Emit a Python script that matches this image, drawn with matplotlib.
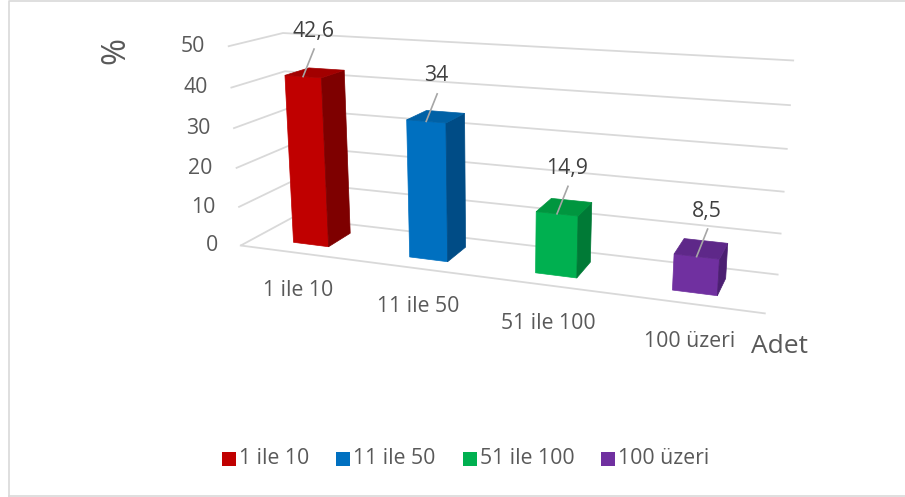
import numpy as np
import matplotlib
matplotlib.use("Agg")
import matplotlib.pyplot as plt
from matplotlib.patches import Polygon

# ---- data -------------------------------------------------------------
categories = ["1 ile 10", "11 ile 50", "51 ile 100", "100 üzeri"]
values = [42.6, 34, 14.9, 8.5]
value_labels = ["42,6", "34", "14,9", "8,5"]
y_ticks = [0, 10, 20, 30, 40, 50]
y_tick_labels = ["0", "10", "20", "30", "40", "50"]

# ---- styling ----------------------------------------------------------
front_colors = ["#C00000", "#0070C0", "#00B050", "#7030A0"]
side_colors = ["#7E0000", "#004C86", "#007A36", "#4C1F72"]
top_colors = ["#A20000", "#0061A6", "#00963F", "#5E2889"]
grid_color = "#D9D9D9"
text_color = "#595959"
label_color = "#404040"
font = ["Open Sans", "DejaVu Sans"]
fs = 15.3

W, H = 905, 497
n_cat = len(categories)
bar_width = 0.31     # share of a category slot
bar_depth = 0.46     # share of the floor depth

# ---- perspective camera -------------------------------------------------
# Box corners (category, depth, value) and where they sit on the canvas (px).
frame_anchors = [
    ((0, 0, 0), (241, 246)), ((0, 0, 10), (238, 207)), ((0, 0, 20), (236, 168)),
    ((0, 0, 30), (233, 128)), ((0, 0, 40), (230, 88)), ((0, 0, 50), (228, 47)),
    ((0, 1, 50), (283, 33)), ((0, 1, 40), (285, 71)),
    ((4, 1, 50), (794, 61)), ((4, 1, 40), (791, 105)), ((4, 1, 30), (788, 148)),
    ((4, 1, 20), (785, 192)), ((4, 1, 10), (780, 234)), ((4, 1, 0), (779, 275)),
    ((4, 0, 0), (765, 313)),
]


def solve_camera(anchors):
    rows = []
    for (X, Y, Z), (u, v) in anchors:
        p = np.array([X, Y, Z / 10.0, 1.0])
        u, v = u / 100.0, v / 100.0
        rows.append(np.concatenate([p, np.zeros(4), -u * p]))
        rows.append(np.concatenate([np.zeros(4), p, -v * p]))
    _, _, vt = np.linalg.svd(np.array(rows))
    return vt[-1].reshape(3, 4)


CAM = solve_camera(frame_anchors)
_, _, vt_c = np.linalg.svd(CAM)
cam_center = vt_c[-1]
cam_center = cam_center[:3] / cam_center[3]


def proj(X, Y, Z):
    h = CAM @ np.array([X, Y, Z / 10.0, 1.0])
    return np.array([h[0] / h[2] * 100.0, h[1] / h[2] * 100.0])


# ---- canvas -----------------------------------------------------------
fig = plt.figure(figsize=(W / 100, H / 100), dpi=100)
ax = fig.add_axes([0, 0, 1, 1])
ax.set_xlim(0, W)
ax.set_ylim(H, 0)
ax.axis("off")

# chart border
ax.plot([8.5, 8.5, W + 5], [H + 5, 0.8, 0.8], color="#D9D9D9", lw=1.2)
ax.plot([8.5, W + 5], [495.5, 495.5], color="#D9D9D9", lw=1.2)

# walls: horizontal gridlines on the side and back walls
for z in y_ticks:
    a, b, c = proj(0, 0, z), proj(0, 1, z), proj(n_cat, 1, z)
    ax.plot([a[0], b[0], c[0]], [a[1], b[1], c[1]], color=grid_color,
            lw=1.3, solid_capstyle="butt", zorder=1)
# floor front edge
a, b = proj(0, 0, 0), proj(n_cat, 0, 0)
ax.plot([a[0], b[0]], [a[1], b[1]], color=grid_color, lw=1.3, zorder=1)

# value axis labels
for z, lab in zip(y_ticks, y_tick_labels):
    p = proj(0, 0, z)
    ax.text(p[0] - 23, p[1], lab, ha="right", va="center", fontsize=fs,
            color=text_color, family=font)

ax.text(116, 50, "%", rotation=90, ha="center", va="center", fontsize=23.5,
        color=text_color, family=font)

# category labels below the floor edge
for i, cat in enumerate(categories):
    p = proj(i + 0.5, 0, 0)
    ax.text(p[0] + 1, p[1] + 38, cat, ha="center", va="center", fontsize=fs,
            color=text_color, family=font)
p = proj(n_cat, 0, 0)
ax.text(p[0] + 15, p[1] + 33, "Adet", ha="center", va="center", fontsize=19,
        color=text_color, family=font)


# ---- bars ---------------------------------------------------------------
def box_faces(x0, x1, y0, y1, z1):
    c = {(i, j, k): (x, y, z)
         for i, x in enumerate((x0, x1))
         for j, y in enumerate((y0, y1))
         for k, z in enumerate((0.0, z1))}
    faces = {
        "front": ([c[0, 0, 0], c[1, 0, 0], c[1, 0, 1], c[0, 0, 1]], (0, -1, 0)),
        "back": ([c[0, 1, 0], c[1, 1, 0], c[1, 1, 1], c[0, 1, 1]], (0, 1, 0)),
        "left": ([c[0, 0, 0], c[0, 1, 0], c[0, 1, 1], c[0, 0, 1]], (-1, 0, 0)),
        "right": ([c[1, 0, 0], c[1, 1, 0], c[1, 1, 1], c[1, 0, 1]], (1, 0, 0)),
        "top": ([c[0, 0, 1], c[1, 0, 1], c[1, 1, 1], c[0, 1, 1]], (0, 0, 1)),
    }
    return faces


y0 = (1 - bar_depth) / 2
y1 = y0 + bar_depth
for i, v in enumerate(values):
    x0 = i + (1 - bar_width) / 2
    x1 = x0 + bar_width
    faces = box_faces(x0, x1, y0, y1, v)
    shade = {"front": front_colors[i], "back": front_colors[i],
             "left": side_colors[i], "right": side_colors[i],
             "top": top_colors[i]}
    for name, (pts, normal) in faces.items():
        ref = np.array(pts[0], dtype=float)
        ref[2] /= 10.0
        if np.dot(cam_center - ref, normal) <= 0:
            continue
        poly = np.array([proj(*p) for p in pts])
        ax.add_patch(Polygon(poly, closed=True, facecolor=shade[name],
                             edgecolor=shade[name], lw=0.5, zorder=3 + i))

    # value label with leader line to the front edge of the top face
    tip = proj(i + 0.5, y0, v)
    lab = tip + np.array([10, -45.5])
    ax.plot([lab[0] + 1, tip[0]], [lab[1] + 18, tip[1]], color="#A6A6A6",
            lw=1.2, zorder=10)
    ax.text(lab[0], lab[1], value_labels[i], ha="center", va="center",
            fontsize=fs, color=label_color, family=font, zorder=11)

# ---- legend -------------------------------------------------------------
leg_x = [222, 336, 463, 601]
for i, cat in enumerate(categories):
    ax.add_patch(Polygon([[leg_x[i], 452], [leg_x[i] + 14, 452],
                          [leg_x[i] + 14, 466], [leg_x[i], 466]],
                         closed=True, facecolor=front_colors[i], lw=0))
    ax.text(leg_x[i] + 17, 458, cat, ha="left", va="center", fontsize=fs,
            color=text_color, family=font)

fig.savefig("out.png", dpi=100)
